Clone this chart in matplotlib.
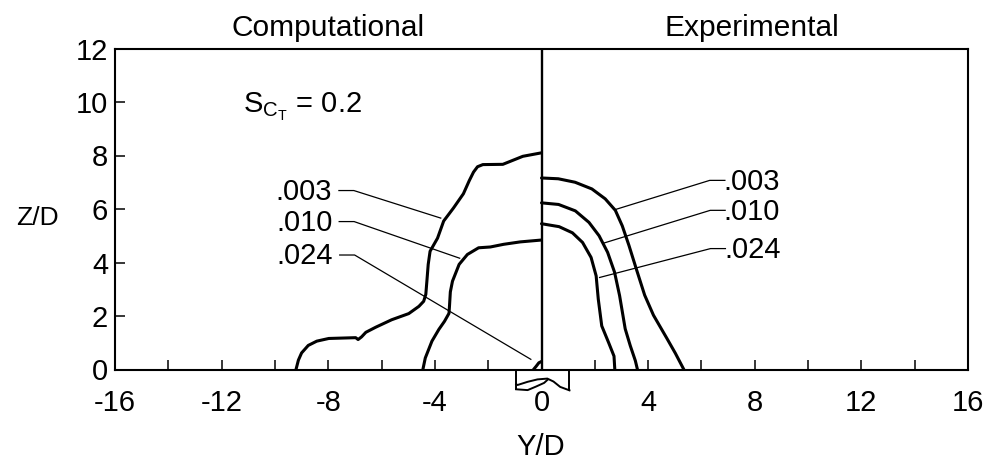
import matplotlib
matplotlib.use("Agg")
import matplotlib.pyplot as plt

plt.rcParams['font.family'] = ['Liberation Sans', 'DejaVu Sans']
plt.rcParams['mathtext.fontset'] = 'custom'
plt.rcParams['mathtext.rm'] = 'Liberation Sans'
plt.rcParams['mathtext.it'] = 'Liberation Sans'

# ---- data (Y/D, Z/D) ----
levels = ['.003', '.010', '.024']

# computational side (Y/D < 0)
comp_003_y = [-9.21, -9.12, -9.0, -8.75, -8.43, -7.98, -7.3, -6.97, -6.88, -6.75, -6.59, -6.22, -5.62,
              -4.98, -4.6, -4.42, -4.34, -4.3, -4.25, -4.18, -3.9, -3.67, -3.3, -2.93, -2.71, -2.55,
              -2.4, -2.2, -1.45, -0.7, 0.0]
comp_003_z = [0.0, 0.35, 0.62, 0.9, 1.06, 1.16, 1.18, 1.19, 1.12, 1.22, 1.39, 1.58, 1.86,
              2.09, 2.36, 2.55, 2.81, 3.3, 3.93, 4.42, 4.91, 5.55, 6.04, 6.57, 7.06, 7.38,
              7.58, 7.66, 7.67, 7.97, 8.1]
comp_010_y = [-4.45, -4.36, -4.11, -3.85, -3.64, -3.47, -3.45, -3.42, -3.34, -3.09, -2.78, -2.36,
              -1.92, -1.42, -0.8, 0.0]
comp_010_z = [0.0, 0.43, 1.06, 1.5, 1.8, 2.1, 2.4, 2.9, 3.3, 3.93, 4.3, 4.55,
              4.58, 4.68, 4.77, 4.84]
comp_024_y = [-0.3, -0.2, -0.1, 0.0]
comp_024_z = [0.0, 0.12, 0.25, 0.3]

# experimental side (Y/D > 0)
exp_003_y = [0.0, 0.63, 1.26, 1.89, 2.39, 2.77, 3.03, 3.28, 3.55, 3.87, 4.2, 4.7, 5.02, 5.34]
exp_003_z = [7.16, 7.13, 7.0, 6.75, 6.38, 5.95, 5.37, 4.64, 3.78, 2.78, 2.03, 1.17, 0.61, 0.0]
exp_010_y = [0.0, 0.64, 1.27, 1.78, 2.16, 2.48, 2.74, 2.93, 3.14, 3.33, 3.52, 3.6]
exp_010_z = [6.23, 6.17, 5.93, 5.5, 5.0, 4.38, 3.64, 2.76, 1.52, 0.89, 0.33, 0.0]
exp_024_y = [0.0, 0.66, 1.16, 1.54, 1.86, 2.05, 2.13, 2.26, 2.52, 2.72, 2.75]
exp_024_z = [5.45, 5.34, 5.11, 4.75, 4.19, 3.5, 2.63, 1.63, 1.0, 0.5, 0.0]

x_ticks = [-16, -12, -8, -4, 0, 4, 8, 12, 16]
y_ticks = [0, 2, 4, 6, 8, 10, 12]

# jet exit symbol under the axis
jet_upper_y = [-0.95, -0.9, -0.52, -0.15, 0.22, 0.45, 0.7, 1.05]
jet_upper_z = [-0.55, -0.58, -0.46, -0.37, -0.34, -0.45, -0.65, -0.78]
jet_lower_y = [-0.95, -0.52, -0.21, 0.1, 0.22]
jet_lower_z = [-0.74, -0.77, -0.64, -0.5, -0.39]

# ---- figure ----
fig = plt.figure(figsize=(9.9, 4.63), dpi=100)
ax = fig.add_axes([115 / 990, (463 - 369.5) / 463, 853 / 990, 321 / 463])
ax.set_xlim(-16, 16)
ax.set_ylim(0, 12)

lw_c = 2.2
for y, z in [(comp_003_y, comp_003_z), (comp_010_y, comp_010_z), (comp_024_y, comp_024_z),
             (exp_003_y, exp_003_z), (exp_010_y, exp_010_z), (exp_024_y, exp_024_z)]:
    ax.plot(y, z, color='black', lw=lw_c, solid_capstyle='round', solid_joinstyle='round')

ax.axvline(0, color='black', lw=1.7)

# leader lines and level labels
left_leaders = [[(-7.6, 6.69), (-7.04, 6.69), (-3.78, 5.66)],
                [(-7.59, 5.53), (-7.03, 5.53), (-3.07, 4.16)],
                [(-7.57, 4.28), (-7.01, 4.28), (-0.4, 0.38)]]
right_leaders = [[(6.88, 7.07), (6.31, 7.07), (2.77, 5.98)],
                 [(6.89, 5.95), (6.33, 5.95), (2.35, 4.73)],
                 [(6.9, 4.52), (6.34, 4.52), (2.18, 3.44)]]
for lab, ll, rl in zip(levels, left_leaders, right_leaders):
    ax.plot([p[0] for p in ll], [p[1] for p in ll], color='black', lw=0.9)
    ax.plot([p[0] for p in rl], [p[1] for p in rl], color='black', lw=0.9)
    ax.text(ll[0][0] - 0.25, ll[0][1] - 0.05, lab, ha='right', va='center', fontsize=21)
    ax.text(rl[0][0] - 0.05, rl[0][1] - 0.05, lab, ha='left', va='center', fontsize=21)

ax.text(-11.2, 9.58, r'$\mathregular{S_{C_T}}$ = 0.2', ha='left', va='baseline', fontsize=21)

ax.text(-8.0, 12.48, 'Computational', ha='center', va='baseline', fontsize=21.5, clip_on=False)
ax.text(7.9, 12.48, 'Experimental', ha='center', va='baseline', fontsize=21.5, clip_on=False)

# jet exit symbol
ax.plot([-0.95, -0.95], [0, -0.74], color='black', lw=1.4, clip_on=False)
ax.plot([1.05, 1.05], [0, -0.78], color='black', lw=1.4, clip_on=False)
ax.plot(jet_upper_y, jet_upper_z, color='black', lw=1.4, clip_on=False)
ax.plot(jet_lower_y, jet_lower_z, color='black', lw=1.4, clip_on=False)

# axes styling
for s in ax.spines.values():
    s.set_linewidth(1.5)
ax.set_xticks(x_ticks)
ax.set_xticklabels([str(t) for t in x_ticks])
ax.set_xticks([-14, -10, -6, -2, 2, 6, 10, 14], minor=True)
ax.set_yticks(y_ticks)
ax.set_yticklabels([str(t) for t in y_ticks])
ax.tick_params(which='both', direction='in', length=7, width=1.1, top=False, right=False,
               labelsize=21)
ax.tick_params(axis='x', pad=14)
ax.tick_params(axis='y', pad=5)

ax.text(-18.9, 5.65, 'Z/D', ha='center', va='center', fontsize=19, clip_on=False)
ax.text(-0.05, -2.9, 'Y/D', ha='center', va='center', fontsize=21, clip_on=False)

fig.savefig('out.png', dpi=100)
